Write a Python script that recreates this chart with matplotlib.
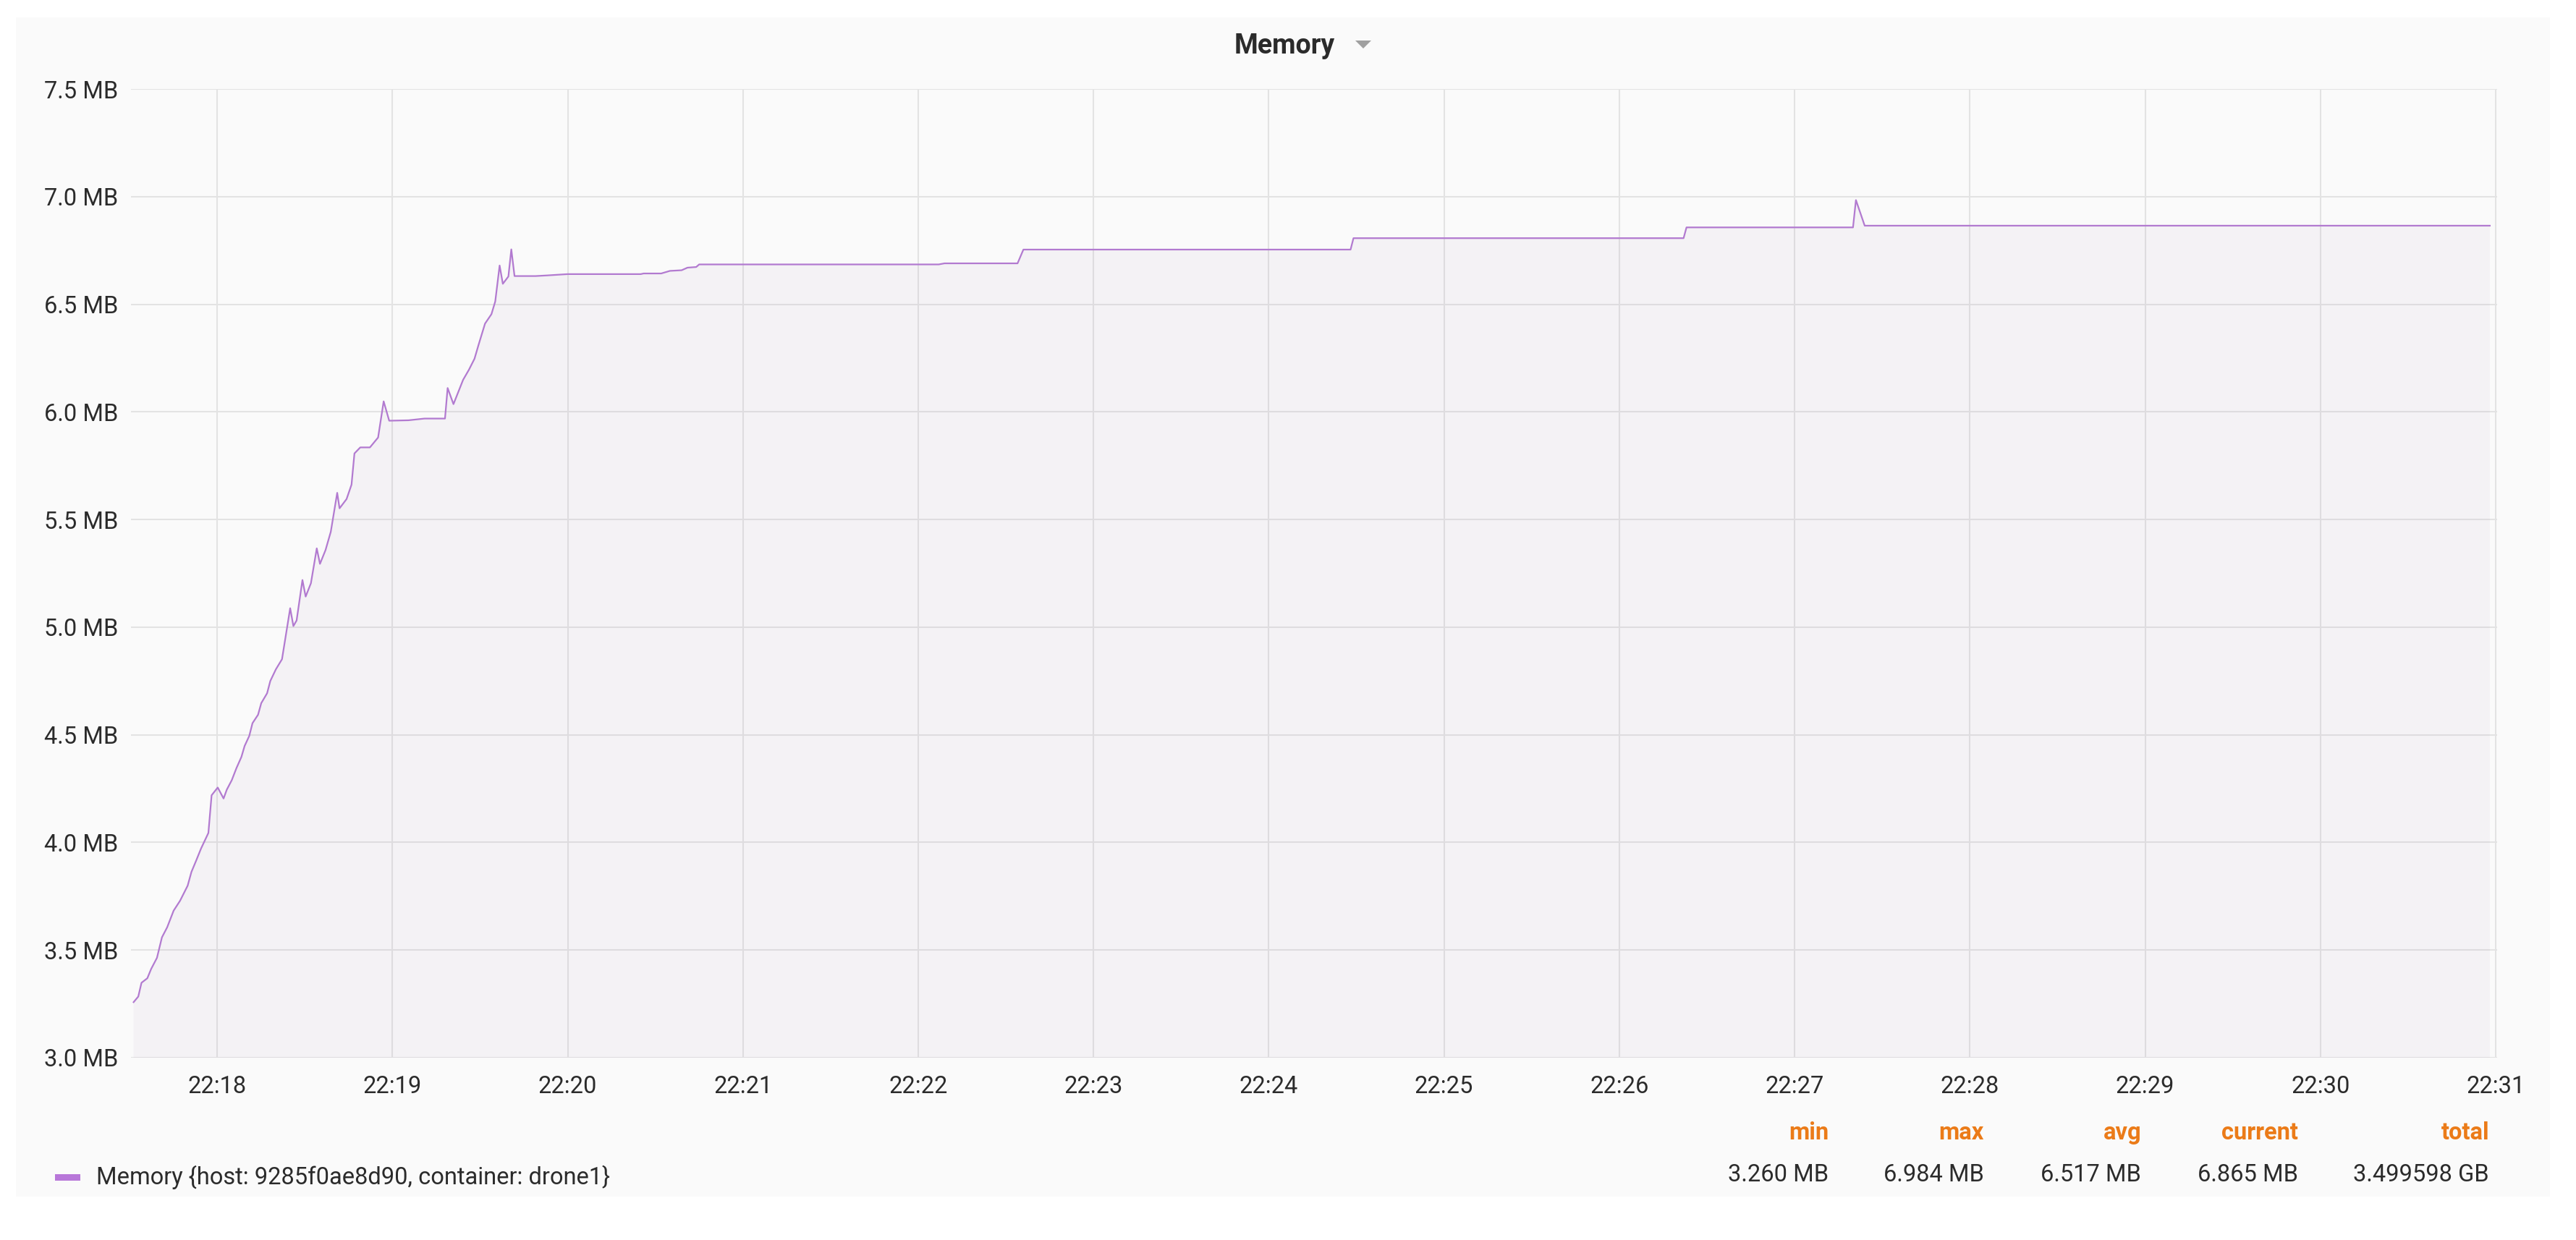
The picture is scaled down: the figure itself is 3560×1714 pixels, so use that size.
import pandas as pd
import matplotlib.pyplot as plt
import matplotlib.dates as mdates
from matplotlib.patches import Rectangle, Polygon
from matplotlib.ticker import MultipleLocator, FuncFormatter

plt.rcParams['font.family'] = ['Roboto', 'DejaVu Sans']

# memory samples (clock time, MB)
times = [
    "22:17:31.4", "22:17:33.0", "22:17:34.1", "22:17:36.1", "22:17:37.4", "22:17:39.4",
    "22:17:41.1", "22:17:42.9", "22:17:45.1", "22:17:47.3", "22:17:49.9", "22:17:51.2",
    "22:17:52.8", "22:17:54.5", "22:17:57.0", "22:17:58.1", "22:18:00.2", "22:18:02.2",
    "22:18:03.3", "22:18:05.0", "22:18:06.6", "22:18:08.3", "22:18:09.4", "22:18:11.0",
    "22:18:12.1", "22:18:14.0", "22:18:15.1", "22:18:17.1", "22:18:18.2", "22:18:20.1",
    "22:18:22.2", "22:18:25.0", "22:18:26.1", "22:18:27.2", "22:18:29.2", "22:18:30.3",
    "22:18:32.1", "22:18:34.1", "22:18:35.2", "22:18:37.1", "22:18:38.9", "22:18:41.1",
    "22:18:41.9", "22:18:44.3", "22:18:46.0", "22:18:47.0", "22:18:49.0", "22:18:52.3",
    "22:18:55.1", "22:18:57.0", "22:18:58.9", "22:19:05.5", "22:19:11.0", "22:19:18.0",
    "22:19:18.9", "22:19:20.9", "22:19:24.2", "22:19:26.2", "22:19:28.1", "22:19:29.5",
    "22:19:31.7", "22:19:33.9", "22:19:35.2", "22:19:36.7", "22:19:37.8", "22:19:39.7",
    "22:19:40.7", "22:19:41.8", "22:19:49.0", "22:19:53.0", "22:20:00.0", "22:20:25.0",
    "22:20:26.0", "22:20:32.0", "22:20:35.0", "22:20:39.0", "22:20:41.0", "22:20:44.0",
    "22:20:45.0", "22:22:07.0", "22:22:09.0", "22:22:34.0", "22:22:36.0", "22:24:28.0",
    "22:24:29.0", "22:26:22.0", "22:26:23.0", "22:27:20.0", "22:27:21.0", "22:27:24.0",
    "22:30:58.0",
]
memory_mb = [
    3.258, 3.284, 3.348, 3.369, 3.412, 3.464,
    3.559, 3.606, 3.683, 3.729, 3.799, 3.863,
    3.915, 3.972, 4.044, 4.219, 4.255, 4.204,
    4.245, 4.289, 4.345, 4.397, 4.448, 4.495,
    4.554, 4.593, 4.647, 4.693, 4.750, 4.804,
    4.851, 5.088, 5.005, 5.031, 5.219, 5.142,
    5.204, 5.366, 5.294, 5.358, 5.443, 5.624,
    5.552, 5.595, 5.662, 5.807, 5.835, 5.835,
    5.881, 6.049, 5.959, 5.961, 5.969, 5.969,
    6.111, 6.036, 6.149, 6.196, 6.247, 6.312,
    6.410, 6.454, 6.513, 6.680, 6.595, 6.629,
    6.755, 6.631, 6.631, 6.634, 6.640, 6.640,
    6.643, 6.643, 6.655, 6.658, 6.670, 6.673,
    6.685, 6.685, 6.690, 6.690, 6.754, 6.754,
    6.807, 6.807, 6.857, 6.857, 6.984, 6.865,
    6.865,
]

series_name = "Memory {host: 9285f0ae8d90, container: drone1}"
stat_names = ["min", "max", "avg", "current", "total"]
stat_values = ["3.260 MB", "6.984 MB", "6.517 MB", "6.865 MB", "3.499598 GB"]

t = pd.to_datetime(["2020-01-01 " + s for s in times])

W, H = 3560, 1714
fig = plt.figure(figsize=(W / 100, H / 100), dpi=100)
fig.patch.set_facecolor('white')

# grey panel behind everything
fig.patches.append(Rectangle((22 / W, 1 - 1654 / H), (3524 - 22) / W, (1654 - 24) / H,
                             transform=fig.transFigure, fc='#fafafa', ec='none', zorder=-5))

ax = fig.add_axes([181 / W, 1 - 1462 / H, (3451 - 181) / W, (1462 - 123) / H])
ax.set_facecolor('none')

line_color = '#b27ad0'
ax.fill_between(t, memory_mb, 0, color='#a98ab5', alpha=0.07, lw=0)
ax.plot(t, memory_mb, color=line_color, lw=1.6)

ax.set_ylim(3.0, 7.5)
ax.set_xlim(pd.Timestamp("2020-01-01 22:17:30.5"), pd.Timestamp("2020-01-01 22:31:00.5"))
ax.yaxis.set_major_locator(MultipleLocator(0.5))
ax.yaxis.set_major_formatter(FuncFormatter(lambda v, p: f"{v:.1f} MB"))
ax.xaxis.set_major_locator(mdates.MinuteLocator())
ax.xaxis.set_major_formatter(mdates.DateFormatter('%H:%M'))

ax.grid(True, color='#e3e3e3', lw=1.5)
ax.set_axisbelow(True)
for s in ax.spines.values():
    s.set_visible(False)
ax.tick_params(axis='both', length=0, labelsize=23.5, colors='#2b2b2b')
ax.tick_params(axis='y', pad=13)
ax.tick_params(axis='x', pad=17)

# title with dropdown caret
fig.text(1775 / W, 1 - 63 / H, "Memory", ha='center', va='center',
         fontsize=27, fontweight='bold', color='#2b2b2b')
fig.patches.append(Polygon([(1873 / W, 1 - 56 / H), (1895 / W, 1 - 56 / H), (1884 / W, 1 - 67 / H)],
                           closed=True, transform=fig.transFigure, fc='#a0a0a0', ec='none'))

# legend
fig.patches.append(Rectangle((76 / W, 1 - 1632 / H), 35 / W, 9 / H,
                             transform=fig.transFigure, fc='#b877d9', ec='none'))
fig.text(133 / W, 1 - 1627 / H, series_name, ha='left', va='center',
         fontsize=23.5, color='#2b2b2b')

stat_x = [2527, 2742, 2959, 3176, 3440]
for x, name, val in zip(stat_x, stat_names, stat_values):
    fig.text(x / W, 1 - 1566 / H, name, ha='right', va='center',
             fontsize=23.5, fontweight='bold', color='#eb7b18')
    fig.text(x / W, 1 - 1624 / H, val, ha='right', va='center',
             fontsize=23.5, color='#2b2b2b')

plt.savefig('out.png', dpi=100)
